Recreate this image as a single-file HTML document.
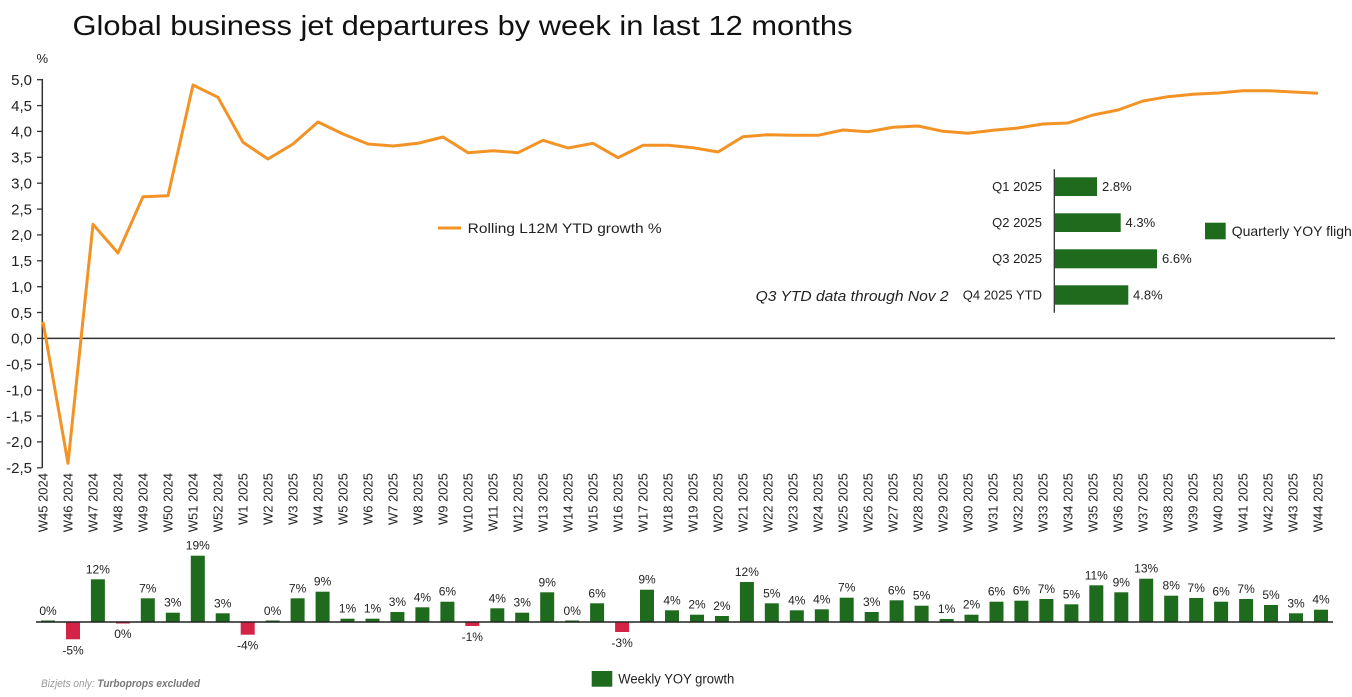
<!DOCTYPE html>
<html><head><meta charset="utf-8"><style>
html,body{margin:0;padding:0;background:#fff;}
svg{display:block;font-family:"Liberation Sans",Arial,sans-serif;}
</style></head><body>
<svg width="1352" height="697" viewBox="0 0 1352 697" xmlns="http://www.w3.org/2000/svg">
<rect width="1352" height="697" fill="#fff"/>
<!-- title -->
<text x="72.5" y="35" font-size="28" fill="#111" textLength="780" lengthAdjust="spacingAndGlyphs">Global business jet departures by week in last 12 months</text>
<text x="36.5" y="63" font-size="13" fill="#222">%</text>
<!-- y axis -->
<line x1="42.3" y1="79" x2="42.3" y2="468" stroke="#333" stroke-width="1.5"/>
<g stroke="#333" stroke-width="1.3">
<line x1="37" y1="79.7" x2="42" y2="79.7"/><line x1="37" y1="105.6" x2="42" y2="105.6"/><line x1="37" y1="131.4" x2="42" y2="131.4"/><line x1="37" y1="157.3" x2="42" y2="157.3"/><line x1="37" y1="183.2" x2="42" y2="183.2"/><line x1="37" y1="209.1" x2="42" y2="209.1"/><line x1="37" y1="234.9" x2="42" y2="234.9"/><line x1="37" y1="260.8" x2="42" y2="260.8"/><line x1="37" y1="286.7" x2="42" y2="286.7"/><line x1="37" y1="312.5" x2="42" y2="312.5"/><line x1="37" y1="338.4" x2="42" y2="338.4"/><line x1="37" y1="364.3" x2="42" y2="364.3"/><line x1="37" y1="390.1" x2="42" y2="390.1"/><line x1="37" y1="416" x2="42" y2="416"/><line x1="37" y1="441.9" x2="42" y2="441.9"/><line x1="37" y1="467.8" x2="42" y2="467.8"/>
</g>
<g font-size="15" fill="#222" text-anchor="end">
<text x="32" y="85">5,0</text><text x="32" y="110.9">4,5</text><text x="32" y="136.7">4,0</text><text x="32" y="162.6">3,5</text><text x="32" y="188.5">3,0</text><text x="32" y="214.4">2,5</text><text x="32" y="240.2">2,0</text><text x="32" y="266.1">1,5</text><text x="32" y="292">1,0</text><text x="32" y="317.8">0,5</text><text x="32" y="343.7">0,0</text><text x="32" y="369.6">-0,5</text><text x="32" y="395.4">-1,0</text><text x="32" y="421.3">-1,5</text><text x="32" y="447.2">-2,0</text><text x="32" y="473.1">-2,5</text>
</g>
<!-- zero line -->
<line x1="42" y1="338.4" x2="1335" y2="338.4" stroke="#333" stroke-width="1.5"/>
<!-- line series -->
<polyline fill="none" stroke="#F39325" stroke-width="3" stroke-linejoin="round" points="43,321.7 68,463.3 93,224.3 118,253 143,196.7 168,195.7 193,85 218,97.3 243,142.3 268,159 293,144 318,122 343,134 368,144 393,146 418,143.3 443,137 468,152.7 493,150.7 518,152.7 543,140.3 568,148 593,143.3 618,157.7 643,145.3 668,145.3 693,147.7 718,152 743,136.7 768,134.7 793,135.3 818,135.3 843,130 868,131.7 893,127.3 918,126 943,131.3 968,133.3 993,130.3 1018,128 1043,124 1068,123 1093,115 1118,110 1143,101 1168,96.7 1193,94.3 1218,93 1243,90.7 1268,90.7 1293,92 1318,93.3"/>
<!-- legend line -->
<line x1="438" y1="228" x2="461" y2="228" stroke="#F39325" stroke-width="3"/>
<text x="467.7" y="233" font-size="14" fill="#222" textLength="194" lengthAdjust="spacingAndGlyphs">Rolling L12M YTD growth %</text>
<!-- x labels -->
<g font-size="13" fill="#222" text-anchor="end">
<text transform="translate(47.5,473) rotate(-90)">W45 2024</text>
<text transform="translate(72.5,473) rotate(-90)">W46 2024</text>
<text transform="translate(97.5,473) rotate(-90)">W47 2024</text>
<text transform="translate(122.5,473) rotate(-90)">W48 2024</text>
<text transform="translate(147.5,473) rotate(-90)">W49 2024</text>
<text transform="translate(172.5,473) rotate(-90)">W50 2024</text>
<text transform="translate(197.5,473) rotate(-90)">W51 2024</text>
<text transform="translate(222.5,473) rotate(-90)">W52 2024</text>
<text transform="translate(247.5,473) rotate(-90)">W1 2025</text>
<text transform="translate(272.5,473) rotate(-90)">W2 2025</text>
<text transform="translate(297.5,473) rotate(-90)">W3 2025</text>
<text transform="translate(322.5,473) rotate(-90)">W4 2025</text>
<text transform="translate(347.5,473) rotate(-90)">W5 2025</text>
<text transform="translate(372.5,473) rotate(-90)">W6 2025</text>
<text transform="translate(397.5,473) rotate(-90)">W7 2025</text>
<text transform="translate(422.5,473) rotate(-90)">W8 2025</text>
<text transform="translate(447.5,473) rotate(-90)">W9 2025</text>
<text transform="translate(472.5,473) rotate(-90)">W10 2025</text>
<text transform="translate(497.5,473) rotate(-90)">W11 2025</text>
<text transform="translate(522.5,473) rotate(-90)">W12 2025</text>
<text transform="translate(547.5,473) rotate(-90)">W13 2025</text>
<text transform="translate(572.5,473) rotate(-90)">W14 2025</text>
<text transform="translate(597.5,473) rotate(-90)">W15 2025</text>
<text transform="translate(622.5,473) rotate(-90)">W16 2025</text>
<text transform="translate(647.5,473) rotate(-90)">W17 2025</text>
<text transform="translate(672.5,473) rotate(-90)">W18 2025</text>
<text transform="translate(697.5,473) rotate(-90)">W19 2025</text>
<text transform="translate(722.5,473) rotate(-90)">W20 2025</text>
<text transform="translate(747.5,473) rotate(-90)">W21 2025</text>
<text transform="translate(772.5,473) rotate(-90)">W22 2025</text>
<text transform="translate(797.5,473) rotate(-90)">W23 2025</text>
<text transform="translate(822.5,473) rotate(-90)">W24 2025</text>
<text transform="translate(847.5,473) rotate(-90)">W25 2025</text>
<text transform="translate(872.5,473) rotate(-90)">W26 2025</text>
<text transform="translate(897.5,473) rotate(-90)">W27 2025</text>
<text transform="translate(922.5,473) rotate(-90)">W28 2025</text>
<text transform="translate(947.5,473) rotate(-90)">W29 2025</text>
<text transform="translate(972.5,473) rotate(-90)">W30 2025</text>
<text transform="translate(997.5,473) rotate(-90)">W31 2025</text>
<text transform="translate(1022.5,473) rotate(-90)">W32 2025</text>
<text transform="translate(1047.5,473) rotate(-90)">W33 2025</text>
<text transform="translate(1072.5,473) rotate(-90)">W34 2025</text>
<text transform="translate(1097.5,473) rotate(-90)">W35 2025</text>
<text transform="translate(1122.5,473) rotate(-90)">W36 2025</text>
<text transform="translate(1147.5,473) rotate(-90)">W37 2025</text>
<text transform="translate(1172.5,473) rotate(-90)">W38 2025</text>
<text transform="translate(1197.5,473) rotate(-90)">W39 2025</text>
<text transform="translate(1222.5,473) rotate(-90)">W40 2025</text>
<text transform="translate(1247.5,473) rotate(-90)">W41 2025</text>
<text transform="translate(1272.5,473) rotate(-90)">W42 2025</text>
<text transform="translate(1297.5,473) rotate(-90)">W43 2025</text>
<text transform="translate(1322.5,473) rotate(-90)">W44 2025</text>
</g>
<!-- inset quarterly chart -->
<line x1="1054.3" y1="169.3" x2="1054.3" y2="312.7" stroke="#333" stroke-width="1.3"/>
<g fill="#1E6B1E">
<rect x="1055" y="177.3" width="42" height="18.7"/>
<rect x="1055" y="213.3" width="65.7" height="18.7"/>
<rect x="1055" y="249.3" width="102" height="19"/>
<rect x="1055" y="285.3" width="73.3" height="19.4"/>
</g>
<g font-size="13" fill="#222" text-anchor="end">
<text x="1042" y="191">Q1 2025</text>
<text x="1042" y="227">Q2 2025</text>
<text x="1042" y="263">Q3 2025</text>
<text x="1042" y="299.5">Q4 2025 YTD</text>
</g>
<g font-size="13" fill="#222">
<text x="1102" y="191">2.8%</text>
<text x="1125.5" y="227">4.3%</text>
<text x="1162" y="263">6.6%</text>
<text x="1133" y="299.5">4.8%</text>
</g>
<text x="755.6" y="301" font-size="14.5" font-style="italic" fill="#222" textLength="193" lengthAdjust="spacingAndGlyphs">Q3 YTD data through Nov 2</text>
<rect x="1205" y="222.7" width="20.7" height="16.6" fill="#1E6B1E"/>
<text x="1231.7" y="236" font-size="14" fill="#222">Quarterly YOY flights</text>
<!-- weekly bars -->
<g fill="#1E6B1E">
<rect x="41" y="620.5" width="14" height="1.5"/>
<rect x="90.9" y="579.3" width="14" height="42.7"/>
<rect x="140.8" y="598.3" width="14" height="23.7"/>
<rect x="165.8" y="612.7" width="14" height="9.3"/>
<rect x="190.8" y="555.7" width="14" height="66.3"/>
<rect x="215.7" y="613.3" width="14" height="8.7"/>
<rect x="265.6" y="620.5" width="14" height="1.5"/>
<rect x="290.6" y="598.3" width="14" height="23.7"/>
<rect x="315.6" y="591.7" width="14" height="30.3"/>
<rect x="340.5" y="618.7" width="14" height="3.3"/>
<rect x="365.5" y="618.7" width="14" height="3.3"/>
<rect x="390.4" y="612" width="14" height="10"/>
<rect x="415.4" y="607.3" width="14" height="14.7"/>
<rect x="440.4" y="601.7" width="14" height="20.3"/>
<rect x="490.3" y="608.3" width="14" height="13.7"/>
<rect x="515.2" y="612.7" width="14" height="9.3"/>
<rect x="540.2" y="592.3" width="14" height="29.7"/>
<rect x="565.2" y="620.5" width="14" height="1.5"/>
<rect x="590.1" y="603.3" width="14" height="18.7"/>
<rect x="640" y="589.7" width="14" height="32.3"/>
<rect x="665" y="610.3" width="14" height="11.7"/>
<rect x="690" y="614.7" width="14" height="7.3"/>
<rect x="714.9" y="616" width="14" height="6"/>
<rect x="739.9" y="582" width="14" height="40"/>
<rect x="764.8" y="603.3" width="14" height="18.7"/>
<rect x="789.8" y="610.3" width="14" height="11.7"/>
<rect x="814.8" y="609.3" width="14" height="12.7"/>
<rect x="839.7" y="597.7" width="14" height="24.3"/>
<rect x="864.7" y="612" width="14" height="10"/>
<rect x="889.6" y="600.3" width="14" height="21.7"/>
<rect x="914.6" y="605.7" width="14" height="16.3"/>
<rect x="939.6" y="619" width="14" height="3"/>
<rect x="964.5" y="614.7" width="14" height="7.3"/>
<rect x="989.5" y="601.7" width="14" height="20.3"/>
<rect x="1014.4" y="600.7" width="14" height="21.3"/>
<rect x="1039.4" y="599" width="14" height="23"/>
<rect x="1064.4" y="604.3" width="14" height="17.7"/>
<rect x="1089.3" y="585.3" width="14" height="36.7"/>
<rect x="1114.3" y="592.3" width="14" height="29.7"/>
<rect x="1139.2" y="578.7" width="14" height="43.3"/>
<rect x="1164.2" y="595.7" width="14" height="26.3"/>
<rect x="1189.2" y="598" width="14" height="24"/>
<rect x="1214.1" y="601.7" width="14" height="20.3"/>
<rect x="1239.1" y="599" width="14" height="23"/>
<rect x="1264" y="605" width="14" height="17"/>
<rect x="1289" y="613.3" width="14" height="8.7"/>
<rect x="1314" y="609.7" width="14" height="12.3"/>
</g>
<g fill="#D42347">
<rect x="66" y="622" width="14" height="17.3"/>
<rect x="115.9" y="622" width="14" height="1.5"/>
<rect x="240.7" y="622" width="14" height="12.7"/>
<rect x="465.3" y="622" width="14" height="4"/>
<rect x="615.1" y="622" width="14" height="10"/>
</g>
<line x1="36" y1="622" x2="1333" y2="622" stroke="#222" stroke-width="1.5"/>
<g font-size="12" fill="#222" text-anchor="middle">
<text x="48" y="615">0%</text>
<text x="73" y="654.3">-5%</text>
<text x="97.9" y="573.3">12%</text>
<text x="122.9" y="638">0%</text>
<text x="147.8" y="592.3">7%</text>
<text x="172.8" y="606.7">3%</text>
<text x="197.8" y="549.7">19%</text>
<text x="222.7" y="607.3">3%</text>
<text x="247.7" y="649.7">-4%</text>
<text x="272.6" y="615">0%</text>
<text x="297.6" y="592.3">7%</text>
<text x="322.6" y="585.7">9%</text>
<text x="347.5" y="612.7">1%</text>
<text x="372.5" y="612.7">1%</text>
<text x="397.4" y="606">3%</text>
<text x="422.4" y="601.3">4%</text>
<text x="447.4" y="595.7">6%</text>
<text x="472.3" y="641">-1%</text>
<text x="497.3" y="602.3">4%</text>
<text x="522.2" y="606.7">3%</text>
<text x="547.2" y="586.3">9%</text>
<text x="572.2" y="615">0%</text>
<text x="597.1" y="597.3">6%</text>
<text x="622.1" y="647">-3%</text>
<text x="647" y="583.7">9%</text>
<text x="672" y="604.3">4%</text>
<text x="697" y="608.7">2%</text>
<text x="721.9" y="610">2%</text>
<text x="746.9" y="576">12%</text>
<text x="771.8" y="597.3">5%</text>
<text x="796.8" y="604.3">4%</text>
<text x="821.8" y="603.3">4%</text>
<text x="846.7" y="591.7">7%</text>
<text x="871.7" y="606">3%</text>
<text x="896.6" y="594.3">6%</text>
<text x="921.6" y="599.7">5%</text>
<text x="946.6" y="613">1%</text>
<text x="971.5" y="608.7">2%</text>
<text x="996.5" y="595.7">6%</text>
<text x="1021.4" y="594.7">6%</text>
<text x="1046.4" y="593">7%</text>
<text x="1071.4" y="598.3">5%</text>
<text x="1096.3" y="579.3">11%</text>
<text x="1121.3" y="586.3">9%</text>
<text x="1146.2" y="572.7">13%</text>
<text x="1171.2" y="589.7">8%</text>
<text x="1196.2" y="592">7%</text>
<text x="1221.1" y="595.7">6%</text>
<text x="1246.1" y="593">7%</text>
<text x="1271" y="599">5%</text>
<text x="1296" y="607.3">3%</text>
<text x="1321" y="603.7">4%</text>
</g>
<!-- bottom legend / notes -->
<rect x="591.7" y="671" width="20.6" height="15.7" fill="#1E6B1E"/>
<text x="618.3" y="683.5" font-size="13.5" fill="#222" textLength="116" lengthAdjust="spacingAndGlyphs">Weekly YOY growth</text>
<text x="41" y="687" font-size="11" font-style="italic" textLength="159" lengthAdjust="spacingAndGlyphs"><tspan fill="#9a9a9a">Bizjets only: </tspan><tspan fill="#777" font-weight="bold">Turboprops excluded</tspan></text>
</svg>
</body></html>
